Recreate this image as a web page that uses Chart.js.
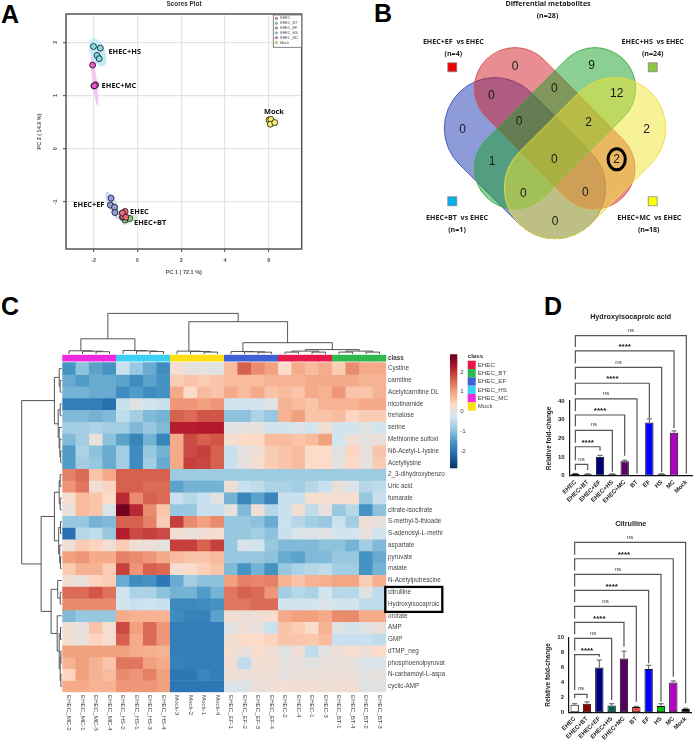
<!DOCTYPE html>
<html><head><meta charset="utf-8">
<script src="https://cdn.jsdelivr.net/npm/chart.js@4"></script>
<style>
html,body{margin:0;padding:0;background:#fff;width:696px;height:741px;overflow:hidden}
canvas{position:absolute;display:block;filter:blur(0.3px)}
.let{position:absolute;font:bold 25px "Liberation Sans",Arial,sans-serif;color:#000;line-height:25px}
</style></head><body>
<div class="let" style="left:1px;top:2px">A</div>
<div class="let" style="left:374px;top:1px">B</div>
<div class="let" style="left:1px;top:294px">C</div>
<div class="let" style="left:544px;top:294px">D</div>
<canvas id="a" width="330" height="290" style="left:0;top:0"></canvas>
<canvas id="b" width="366" height="250" style="left:330px;top:0"></canvas>
<canvas id="c" width="540" height="451" style="left:0;top:290px"></canvas>
<canvas id="d1" width="196" height="220" style="left:500px;top:290px"></canvas>
<canvas id="d2" width="196" height="231" style="left:500px;top:510px"></canvas>
<script>
// ---------- Panel A data ----------
const pcaGroups = ['EHEC','EHEC_BT','EHEC_EF','EHEC_HS','EHEC_MC','Mock'];
const pcaEHEC = [[-0.56,-1.18],[-0.65,-1.28],[-0.68,-1.21],[-0.52,-1.29]];
const pcaBT   = [[-0.67,-1.21],[-0.56,-1.34],[-0.35,-1.31],[-0.68,-1.29]];
const pcaEF   = [[-1.20,-0.93],[-1.23,-1.06],[-1.04,-1.10],[-1.02,-1.20]];
const pcaHS   = [[-2.00,1.92],[-1.69,1.89],[-1.84,1.75],[-1.74,1.69]];
const pcaMC   = [[-2.04,1.57],[-1.98,1.18],[-1.90,1.20],[-1.96,1.18]];
const pcaMock = [[6.01,0.54],[6.09,0.55],[6.07,0.46],[6.27,0.49]];
const pcaColors = ['#ee6a7a','#8fd98a','#8fa0e0','#7fdde8','#ee55d5','#f6ee6a'];
// centre x, centre y (data), long radius, short radius (px), angle deg, colour
const pcaEllipses = [[-1.81,1.81,15,7.5,68,'#c5ecf6'],[-1.95,1.265,25,2.2,83,'#f8c4f0'],[-1.13,-1.07,15,4.5,66,'#cfd7f5'],[-0.33,-1.33,9,3.5,-30,'#d3efd0'],[-0.6,-1.24,5,4,0,'#f8d0d6'],[6.1,0.5,5,4,0,'#fbf6c0']];
const pcaLabels = ['EHEC+HS','EHEC+MC','Mock','EHEC+EF','EHEC','EHEC+BT'];
const pcaLabelX = [-1.32,-1.63,5.78,-2.92,-0.33,-0.15];
const pcaLabelY = [1.82,1.18,0.70,-1.05,-1.18,-1.39];
// ---------- Panel B data ----------
const vennCounts = [0,0,0,9,0,12,0,2,2,1,0,2,0,0,0];
const vennX = [132.7,185,161.3,261.7,224.3,286.7,189,258.7,316.7,162,224.3,286.7,193.3,255.3,225];
const vennY = [130,66.7,95.7,65.7,89,93.3,121.7,122.3,129.3,161.3,160,159.3,193.3,192.7,221.7];
const vennTexts = [['Differential metabolites',218,4.3],['(n=28)',217.5,16],['EHEC+EF  vs EHEC',123.3,41.7],['(n=4)',123.3,54.3],['EHEC+HS  vs EHEC',322.7,41.7],['(n=24)',322.7,54.3],['EHEC+BT  vs EHEC',127,217.7],['(n=1)',127,230],['EHEC+MC  vs EHEC',319.3,217.7],['(n=18)',318.7,230]];
// ---------- Panel C data ----------
const heatColumns = ['EHEC_MC-2','EHEC_MC-1','EHEC_MC-3','EHEC_MC-4','EHEC_HS-2','EHEC_HS-1','EHEC_HS-3','EHEC_HS-4','Mock-3','Mock-2','Mock-1','Mock-4','EHEC_EF-1','EHEC_EF-2','EHEC_EF-3','EHEC_EF-4','EHEC-2','EHEC-4','EHEC-1','EHEC-3','EHEC_BT-1','EHEC_BT-4','EHEC_BT-2','EHEC_BT-3'];
const heatRowNames = ['Cystine','carnitine','Acetylcarnitine DL','nicotinamide','trehalose','serine','Methionine sulfoxi','N6-Acetyl-L-lysine','Acetyllysine','2_3-dihydroxybenzo','Uric acid','fumarate','citrate-isocitrate','S-methyl-5-thioade','S-adenosyl-L-methi','aspartate','pyruvate','malate','N-Acetylputrescine','citrulline','Hydroxyisocaproic','orotate','AMP','GMP','dTMP_neg','phosphoenolpyruvat','N-carbamoyl-L-aspa','cyclic-AMP'];
const heatValues = [
[-1.6,-1.0,-1.4,-1.6,-0.4,-0.9,-1.3,-1.7,0.2,-0.05,-0.05,-0.1,0.7,1.6,1.2,1.0,0.3,0.9,0.7,0.9,0.5,1.2,0.9,0.9],
[-1.3,-1.5,-1.3,-1.3,-1.4,-1.7,-1.4,-1.6,0.5,0.6,0.5,0.6,0.7,0.7,0.7,0.8,0.8,0.8,0.9,0.9,0.9,0.9,0.8,0.8],
[-1.2,-1.2,-1.3,-1.3,-1.7,-1.5,-1.7,-1.6,0.9,0.3,0.7,0.6,0.9,0.7,0.9,0.6,0.7,0.6,0.9,0.8,1.1,0.6,0.6,0.8],
[-1.9,-1.9,-1.9,-2.1,-0.4,-0.1,-0.3,-0.4,1.1,1.1,1.0,1.1,-0.3,-0.3,-0.3,-0.1,0.8,0.7,0.6,0.8,0.8,0.8,0.9,0.9],
[-1.1,-1.1,-1.2,-1.1,-0.5,-0.8,-1.1,-1.2,1.6,1.5,1.7,1.7,-1.0,-1.0,-0.7,-0.9,0.8,1.0,0.6,0.6,0.7,0.4,0.5,0.5],
[-0.8,-0.8,-0.7,-0.8,-0.8,-1.1,-0.9,-1.1,2.2,2.2,2.25,2.25,-0.1,-0.05,-0.05,-0.3,-0.3,-0.2,-0.3,0.15,-0.3,-0.3,-0.1,-0.3],
[-1.1,-0.8,0.02,-1.0,-1.4,-1.8,-1.2,-1.8,0.9,1.8,1.6,1.7,0.2,0.3,0.35,0.7,0.7,0.6,0.7,1.0,-0.3,0.1,-0.05,0.05],
[-1.5,-0.7,-1.0,-1.3,-0.8,-1.7,-0.9,-1.2,0.9,1.8,1.9,1.6,-0.4,-0.05,0.1,0.5,0.6,0.7,0.3,0.3,-0.1,0.4,0,0.6],
[-1.5,-0.8,-0.9,-1.3,-0.8,-1.7,-0.8,-1.3,0.9,1.9,1.85,1.6,-0.4,-0.03,0.2,0.5,0.6,0.7,0.3,0.3,-0.05,0.35,0,0.5],
[1.3,1.5,0.6,0.9,1.6,1.6,1.6,1.6,-0.85,-0.85,-0.85,-0.85,-0.85,-0.85,-0.85,-0.85,-0.85,-0.85,-0.85,-0.85,-0.85,-0.85,-0.85,-0.85],
[1.1,1.4,0.1,0.4,1.6,1.6,1.5,1.5,-1.4,-1.2,-1.2,-1.2,0.1,-0.4,-0.5,-0.7,-0.7,-0.8,-0.6,-0.4,0.05,-0.2,-0.6,-0.5],
[0.2,0.7,0.6,0.3,2.1,1.2,1.6,1.5,-0.4,-0.6,-0.4,-0.1,-1.2,-1.8,-1.4,-1.8,-0.4,-0.4,0.2,0.2,0.2,0.2,-0.9,-0.4],
[0,0.7,0.6,-0.2,2.8,2.1,1.2,0.6,-0.9,-0.9,-0.4,-0.4,-0.05,-1.1,0.1,-0.6,-0.4,0.15,-0.5,0,-0.9,-0.6,-1.6,-1.0],
[-0.9,-0.9,-1.2,-1.1,1.6,1.6,1.3,0.5,1.9,1.2,1.0,1.2,-0.9,-0.9,-1.0,-1.3,-0.4,-0.6,-0.8,-0.9,-0.4,-0.8,0.1,0],
[-2.1,-0.6,-0.5,-0.9,2.2,1.8,1.9,1.8,0.15,0.03,0.1,0.2,-0.9,-0.9,-0.8,-1.0,-0.4,-0.2,-0.15,-0.1,-0.3,-0.3,0,-0.3],
[0.1,0.5,0.4,0.15,0.5,0.1,0.1,-0.05,1.9,1.9,1.6,1.9,-0.9,-0.2,-0.3,-0.9,-1.1,-1.1,-1.1,-1.0,-1.0,-1.2,-0.8,-1.1],
[1.0,1.1,0.9,0.9,1.3,1.2,1.1,0.9,0.7,0.6,0.6,0.7,-0.9,-0.9,-0.9,-1.0,-1.3,-1.4,-1.1,-1.1,-0.9,-0.9,-1.6,-1.3],
[0.5,0.8,0.8,0.5,1.9,1.1,1.6,1.5,0.2,0.25,0.45,0.6,-1.1,-1.6,-1.2,-1.6,-0.9,-0.7,-0.6,-0.5,-0.8,-0.8,-1.6,-1.2],
[0.15,0.02,0.4,0.5,-1.3,-1.7,-1.6,-2.0,-1.3,-0.8,-1.0,-1.0,1.0,1.3,1.25,1.3,0.8,0.6,0.8,0.85,0.95,0.95,0.5,0.85],
[1.5,1.5,1.7,1.45,-0.35,-0.7,-0.7,-1.0,-1.2,-1.2,-1.5,-1.2,1.4,1.6,1.5,1.1,-0.8,-0.6,-0.7,-0.3,-0.6,-0.6,-0.1,-0.5],
[1.2,1.2,1.2,1.2,-0.3,-0.4,-0.35,-0.4,-1.75,-1.75,-1.7,-1.6,1.4,1.4,1.5,1.5,-0.3,-0.3,-0.3,-0.2,-0.3,-0.3,-0.5,-0.5],
[-1.1,-0.9,-0.9,-0.9,0.9,0.8,0.8,0.8,-1.7,-1.85,-1.85,-1.4,0.15,0.05,0.1,0.2,0.9,1.0,1.0,0.9,1.2,1.2,0.9,0.9],
[0.15,0,0.6,0.2,1.8,1.0,1.5,1.1,-1.9,-1.9,-1.9,-1.9,-0.1,0.1,0,-0.4,0.6,0.5,0.25,0.8,-0.1,-0.3,-0.1,0.05],
[0.15,0,0.4,0.2,1.6,0.9,1.5,1.1,-1.9,-1.9,-1.9,-1.9,0.15,0.3,0.3,0.4,0.6,0.6,0.55,0.7,-0.4,-0.4,-0.4,-0.5],
[1.0,1.0,1.0,1.0,1.0,0.9,0.85,0.8,-1.9,-1.9,-1.9,-1.9,0.2,0,0.25,0.15,-0.1,0.1,-0.5,-0.1,0.1,0.2,0.1,0.3],
[0.8,1.0,0.8,0.6,1.4,1.4,1.0,0.9,-1.85,-1.9,-1.9,-1.9,0.15,-0.5,0.1,0.2,-0.05,0,-0.1,0,0.05,0,-0.2,-0.2],
[0.4,1.0,0.8,0.7,1.2,1.1,1.3,1.0,-2.0,-2.0,-1.8,-1.9,0.1,0.05,0.1,0.1,-0.05,0.05,0.05,0.05,0.1,0.05,-0.1,-0.02],
[0.9,0.9,0.8,0.8,1.1,1.1,1.1,1.0,-2.0,-2.0,-2.0,-2.0,-0.2,-0.2,0.05,0.1,0.2,0.15,0.15,0.1,0.15,0.15,-0.1,-0.1]
];
const classNames = ['EHEC','EHEC_BT','EHEC_EF','EHEC_HS','EHEC_MC','Mock'];
const classColors = ['#e8194a','#2fb84b','#4060d8','#3dd0f5','#ee2be0','#ffde0f'];
const columnClass = [4,4,4,4,3,3,3,3,5,5,5,5,2,2,2,2,0,0,0,0,1,1,1,1];
const ramp = ['#053061','#2166AC','#4393C3','#92C5DE','#D1E5F0','#FDDBC7','#F4A582','#D6604D','#B2182B','#67001F'];
const heatLimit = 2.89;
const colTree = [40.7,[15.3,[3.3,0,[2.9,1,[2.4,2,3]]],[3.6,4,[3.1,5,[2.6,6,7]]]],[32.4,[3,8,[2.6,9,[2,10,11]]],[11.4,[2.6,12,[2.3,13,[1.9,14,15]]],[4.5,[3,[2,16,17],[2,18,19]],[3,[2,20,21],[2,22,23]]]]]];
const rowTree = [40,[7.3,[2.5,0,[1.5,1,2]],[3.5,[1.5,3,4],[2.5,5,[1.8,6,[1,7,8]]]]],[20.6,[7.3,[2.5,[1.5,9,10],[1.5,11,12]],[3,[1.2,13,14],[2,15,[1.2,16,17]]]],[10.6,[4,18,[1.5,19,20]],[4.5,21,[2.5,[1.2,22,23],[1.5,[0.8,24,25],[0.8,26,27]]]]]]];
// ---------- Panel D data ----------
const barLabels = ['EHEC','EHEC+BT','EHEC+EF','EHEC+HS','EHEC+MC','BT','EF','HS','MC','Mock'];
const barColors = ['#ffffff','#8b0000','#00007f','#006048','#5a0060','#ff4040','#0000ff','#00c000','#b000c0','#000000'];
const hicaValues = [1,0.8,10.2,0.8,7.8,0,28.5,0.8,23,0];
const hicaErrors = [0.2,0.2,0.7,0.2,0.5,0,1.9,0.2,1,0];
const citValues = [1.0,1.15,6,0.9,7.2,0.7,5.8,0.85,4,0.45];
const citErrors = [0.15,0.25,1,0.25,1,0.1,0.5,0.3,0.2,0.1];
const bracketEnds = [1,2,3,4,5,6,7,8,9];
const bracketSig = ['ns','****','ns','****','ns','****','ns','****','ns'];
const hicaBracketY = [6.07,15.5,24.3,32.5,41.1,49.5,58.0,66.8,75.0];
const hicaLegEnd = [3.0,13.4,2.1,10.7,1.2,30.7,1.8,25.4,1.2];
const citBracketY = [2.41,7.72,9.91,12.05,14.2,16.34,18.48,20.58,22.77];
const citLegEnd = [1.88,7.46,1.65,8.79,1.43,6.56,1.43,4.78,1.21];

// ---------- helpers ----------
const ARIAL='"Liberation Sans",Arial,sans-serif', OPEN='"Open Sans",sans-serif';
Chart.defaults.animation=false;
Chart.defaults.responsive=false;
Chart.defaults.devicePixelRatio=1;
Chart.defaults.plugins.legend.display=false;
Chart.defaults.plugins.tooltip.enabled=false;
function T(ctx,s,x,y,font,color,align,rot){ctx.save();ctx.font=font;ctx.fillStyle=color||'#000';ctx.textAlign=align||'center';ctx.textBaseline='middle';ctx.translate(x,y);if(rot)ctx.rotate(rot);ctx.fillText(s,0,0);ctx.restore();}
function heatColor(v){
  const t=Math.max(0,Math.min(.9999,(v+heatLimit)/(2*heatLimit)))*(ramp.length-1);
  const i=Math.floor(t),f=t-i;
  const h=c=>[parseInt(c.slice(1,3),16),parseInt(c.slice(3,5),16),parseInt(c.slice(5,7),16)];
  const a=h(ramp[i]),b=h(ramp[i+1]);
  return `rgb(${a.map((q,k)=>Math.round(q+(b[k]-q)*f)).join(',')})`;
}
function fixAxis(size,key){return s=>{s[key]=size;};}

// ---------- Panel A ----------
const pcaSets=[pcaEHEC,pcaBT,pcaEF,pcaHS,pcaMC,pcaMock];
new Chart(document.getElementById('a'),{type:'scatter',
 data:{datasets:pcaSets.map((d,i)=>({label:pcaGroups[i],data:d.map(p=>({x:p[0],y:p[1]})),backgroundColor:pcaColors[i],borderColor:'#111',borderWidth:0.8,pointRadius:3}))},
 options:{layout:{padding:{left:36,top:14,right:28.3,bottom:13}},
  scales:{
   x:{type:'linear',min:-3.255,max:7.5,afterBuildTicks:s=>{s.ticks=[-2,0,2,4,6].map(v=>({value:v}));},afterFit:fixAxis(28,'height'),
      grid:{color:'#e4e4e4',lineWidth:1.2,tickColor:'#666',tickLength:3},border:{display:false},
      ticks:{font:{family:ARIAL,size:5.5,weight:'bold'},color:'#555',padding:5,maxRotation:0},
      title:{display:true,text:'PC 1 ( 72.1 %)',font:{family:ARIAL,size:5.5,weight:'bold'},color:'#555',padding:{top:0,bottom:1}}},
   y:{type:'linear',min:-1.885,max:2.53,afterBuildTicks:s=>{s.ticks=[-1,0,1,2].map(v=>({value:v}));},afterFit:fixAxis(30,'width'),
      grid:{color:'#e4e4e4',lineWidth:1.2,tickColor:'#666',tickLength:3},border:{display:false},
      ticks:{font:{family:ARIAL,size:5.5,weight:'bold'},color:'#555',padding:5,minRotation:90,maxRotation:90,crossAlign:'center'},
      title:{display:true,text:'PC 2 ( 14.9 %)',font:{family:ARIAL,size:5.5,weight:'bold'},color:'#555',padding:{top:0,bottom:0}}}
  }},
 plugins:[{id:'pcaDeco',
  beforeDatasetsDraw(ch){const {ctx,scales:{x,y}}=ch;
    pcaEllipses.forEach(e=>{ctx.save();ctx.fillStyle=e[5];ctx.beginPath();ctx.ellipse(x.getPixelForValue(e[0]),y.getPixelForValue(e[1]),e[2],e[3],e[4]*Math.PI/180,0,7);ctx.fill();ctx.restore();});},
  afterDraw(ch){const {ctx,chartArea:a,scales:{x,y}}=ch;
    ctx.save();ctx.strokeStyle='#555';ctx.lineWidth=1.5;ctx.strokeRect(a.left,a.top,a.right-a.left,a.bottom-a.top);ctx.restore();
    T(ctx,'Scores Plot',184,4.7,'bold 6.4px '+ARIAL,'#333');
    pcaLabels.forEach((s,i)=>T(ctx,s,x.getPixelForValue(pcaLabelX[i]),y.getPixelForValue(pcaLabelY[i]),'bold 7.4px '+OPEN,'#111','left'));
    ctx.save();ctx.fillStyle='#fff';ctx.strokeStyle='#666';ctx.lineWidth=0.8;ctx.fillRect(273.3,15,28.4,32.3);ctx.strokeRect(273.3,15,28.4,32.3);ctx.restore();
    pcaGroups.forEach((s,i)=>{const yy=18.4+i*4.83;ctx.save();ctx.fillStyle=pcaColors[i];ctx.strokeStyle='#555';ctx.lineWidth=0.4;ctx.beginPath();ctx.arc(276.4,yy,1.2,0,7);ctx.fill();ctx.stroke();ctx.restore();
      T(ctx,s,280.2,yy,'3.7px '+ARIAL,'#444','left');});
  }}]});

// ---------- Panel B ----------
function capsule(ctx,x1,y1,x2,y2,r,fill,stroke){const a=Math.atan2(y2-y1,x2-x1);ctx.save();ctx.beginPath();ctx.arc(x1,y1,r,a+Math.PI/2,a-Math.PI/2);ctx.arc(x2,y2,r,a-Math.PI/2,a+Math.PI/2);ctx.closePath();ctx.fillStyle=fill;ctx.fill();ctx.strokeStyle=stroke;ctx.lineWidth=0.9;ctx.stroke();ctx.restore();}
new Chart(document.getElementById('b'),{type:'scatter',
 data:{datasets:[{label:'Differential metabolites',data:vennCounts.map((c,i)=>({x:vennX[i],y:vennY[i],c})),pointRadius:0}]},
 options:{layout:{padding:0},scales:{x:{type:'linear',min:0,max:366,display:false},y:{type:'linear',min:0,max:250,reverse:true,display:false}}},
 plugins:[{id:'venn',
  beforeDatasetsDraw(ch){const {ctx}=ch;
    capsule(ctx,165,128.3,225,188,50.7,'rgba(28,55,180,.5)','#3f52b5');
    capsule(ctx,185,88.3,264.3,168.3,40.7,'rgba(210,30,40,.5)','#d8504c');
    capsule(ctx,265,88.3,185,168.3,40.7,'rgba(25,160,40,.5)','#3fa84a');
    capsule(ctx,285,128.3,225,188,50.7,'rgba(240,228,50,.5)','#e8de3c');
  },
  afterDraw(ch){const {ctx,scales:{x,y}}=ch;
    ch.data.datasets[0].data.forEach(p=>T(ctx,String(p.c),x.getPixelForValue(p.x),y.getPixelForValue(p.y),'12px '+ARIAL,'#1a1a1a'));
    ctx.save();ctx.strokeStyle='#000';ctx.lineWidth=3;ctx.beginPath();ctx.ellipse(286.7,159.3,8.6,10.5,0,0,7);ctx.stroke();ctx.restore();
    vennTexts.forEach((t,i)=>T(ctx,t[0],t[1],t[2],'bold 7.1px '+OPEN,'#222'));
    [[122.3,67.3,'#f00000'],[322.7,67.3,'#8cc63f'],[122.3,201.3,'#00aeef'],[322.7,201.3,'#ffff00']].forEach(s=>{ctx.save();ctx.fillStyle=s[2];ctx.strokeStyle='#888';ctx.lineWidth=0.8;ctx.fillRect(s[0]-4.5,s[1]-4.5,9,9);ctx.strokeRect(s[0]-4.5,s[1]-4.5,9,9);ctx.restore();});
  }}]});

// ---------- Panel C ----------
function drawTree(node,ctx,toAlong){ // returns [centre, height]
  if(!Array.isArray(node)) return [node,0];
  const [h,a,b]=node;const A=drawTree(a,ctx,toAlong),B=drawTree(b,ctx,toAlong);
  ctx.beginPath();
  let p=toAlong(A[0],A[1]);ctx.moveTo(p[0],p[1]);p=toAlong(A[0],h);ctx.lineTo(p[0],p[1]);p=toAlong(B[0],h);ctx.lineTo(p[0],p[1]);p=toAlong(B[0],B[1]);ctx.lineTo(p[0],p[1]);
  ctx.stroke();
  return [(A[0]+B[0])/2,h];
}
const heatSets=heatValues.map((row,r)=>({label:heatRowNames[r],data:row.map(()=>[r-0.5,r+0.5]),values:row,backgroundColor:row.map(heatColor),borderWidth:0,grouped:false,barPercentage:1,categoryPercentage:1}));
heatSets.push({label:'class',data:heatColumns.map(()=>[-1.18,-0.62]),backgroundColor:columnClass.map(i=>classColors[i]),borderWidth:0,grouped:false,barPercentage:1,categoryPercentage:1});
new Chart(document.getElementById('c'),{type:'bar',
 data:{labels:heatColumns,datasets:heatSets},
 options:{layout:{padding:{left:62.3,top:64.7,right:53.7,bottom:0}},
  scales:{
   x:{type:'category',afterFit:fixAxis(48.7,'height'),grid:{display:false},border:{display:false},ticks:{display:false}},
   y:{type:'linear',position:'right',reverse:true,min:-1.18,max:27.5,afterFit:fixAxis(100,'width'),
      afterBuildTicks:s=>{s.ticks=[{value:-0.9}].concat(heatRowNames.map((_,i)=>({value:i})));},
      grid:{display:false,drawTicks:false},border:{display:false},
      ticks:{autoSkip:false,padding:1.7,color:'#444',callback:v=>v<0?'class':heatRowNames[v],font:c=>c.tick&&c.tick.value<0?{family:ARIAL,size:6.3,weight:'bold'}:{family:ARIAL,size:6.3}}}
  }},
 plugins:[{id:'heatDeco',afterDraw(ch){const {ctx,chartArea:a,scales:{x,y}}=ch;
    ctx.save();ctx.strokeStyle='#555';ctx.lineWidth=1;
    drawTree(colTree,ctx,(c,h)=>[x.getPixelForValue(c),a.top-0.6-h]);
    drawTree(rowTree,ctx,(c,h)=>[a.left-0.6-h,y.getPixelForValue(c)]);
    ctx.restore();
    heatColumns.forEach((s,i)=>T(ctx,s,x.getPixelForValue(i),405,'6.2px '+ARIAL,'#444','left',Math.PI/2));
    ctx.save();ctx.strokeStyle='#000';ctx.lineWidth=2.3;const yt=y.getPixelForValue(18.55),yb=y.getPixelForValue(20.67);ctx.strokeRect(385.3,yt,57,yb-yt);ctx.restore();
    // colour bar
    const top=64.3,bot=178.3,lx=450,w=7.3;const g=ctx.createLinearGradient(0,top,0,bot);
    ramp.slice().reverse().forEach((c,i)=>g.addColorStop(i/(ramp.length-1),c));
    ctx.save();ctx.fillStyle=g;ctx.fillRect(lx,top,w,bot-top);ctx.restore();
    [2,1,0,-1,-2].forEach(v=>T(ctx,String(v),lx+w+3,121.3-v*19.75,'6.2px '+ARIAL,'#444','left'));
    T(ctx,'class',467.7,66,'bold 6.2px '+ARIAL,'#333','left');
    classNames.forEach((s,i)=>{ctx.save();ctx.fillStyle=classColors[i];ctx.fillRect(467.7,70.7+i*8.33,8,8.33);ctx.restore();T(ctx,s,477.7,74.9+i*8.33,'6.2px '+ARIAL,'#444','left');});
 }}]});

// ---------- Panel D ----------
function barChart(id,title,titleY,vals,errs,bY,bEnd,maxV,step,left,top,H){
  const cv=document.getElementById(id);
  new Chart(cv,{type:'bar',
   data:{labels:barLabels,datasets:[{label:title,data:vals,backgroundColor:barColors,borderColor:'#111',borderWidth:1,barPercentage:0.68,categoryPercentage:1,borderSkipped:false}]},
   options:{layout:{padding:{left:left-24,top:top,right:cv.width-left-123.3,bottom:0}},
    scales:{
     x:{type:'category',afterFit:fixAxis(H,'height'),grid:{display:false,tickLength:3,tickColor:'#111',drawTicks:true},border:{color:'#111',width:1.2},
        ticks:{autoSkip:false,minRotation:45,maxRotation:45,padding:0,color:'#222',font:{family:ARIAL,size:6,weight:'bold'}}},
     y:{type:'linear',min:0,max:maxV,afterFit:fixAxis(24,'width'),grid:{display:false,tickLength:3,tickColor:'#111'},border:{color:'#111',width:1.2},
        ticks:{stepSize:step,padding:1.5,color:'#222',font:{family:ARIAL,size:6,weight:'bold'}},
        title:{display:true,text:'Relative fold-change',color:'#222',font:{family:ARIAL,size:6.5,weight:'bold'},padding:{top:0,bottom:0}}}
    }},
   plugins:[{id:'sig',afterDraw(ch){const {ctx,scales:{x,y}}=ch;
     ctx.save();ctx.strokeStyle='#333';ctx.lineWidth=0.8;
     vals.forEach((v,i)=>{if(!errs[i])return;const px=x.getPixelForValue(i),a=y.getPixelForValue(v),b=y.getPixelForValue(v+errs[i]);ctx.beginPath();ctx.moveTo(px,a);ctx.lineTo(px,b);ctx.moveTo(px-2.6,b);ctx.lineTo(px+2.6,b);ctx.stroke();});
     ctx.restore();
     ctx.save();ctx.strokeStyle='#555';ctx.lineWidth=1.2;
     const x0=x.getPixelForValue(0);
     bracketEnds.forEach((e,i)=>{const by=y.getPixelForValue(bY[i]),ex=x.getPixelForValue(e),re=y.getPixelForValue(bEnd[i]);
       const lb=i===0?re:y.getPixelForValue(bY[i-1])-4;
       ctx.beginPath();ctx.moveTo(x0,lb);ctx.lineTo(x0,by);ctx.lineTo(ex,by);ctx.lineTo(ex,re);ctx.stroke();
       const mid=(x0+ex)/2;
       if(bracketSig[i]==='ns')T(ctx,'ns',mid,by-5.5,'6px '+ARIAL,'#333');else T(ctx,'****',mid,by-4,'bold 8px '+ARIAL,'#111');
     });
     ctx.restore();
     T(ctx,title,130.7,titleY,'bold 7.2px '+ARIAL,'#222');
   }}]});
}
barChart('d1','Hydroxyisocaproic acid',26.7,hicaValues,hicaErrors,hicaBracketY,hicaLegEnd,40,10,69.2,111,34.3);
barChart('d2','Citrulline',14,citValues,citErrors,citBracketY,citLegEnd,10,2,68.5,127.7,28.7);
</script></body></html>
